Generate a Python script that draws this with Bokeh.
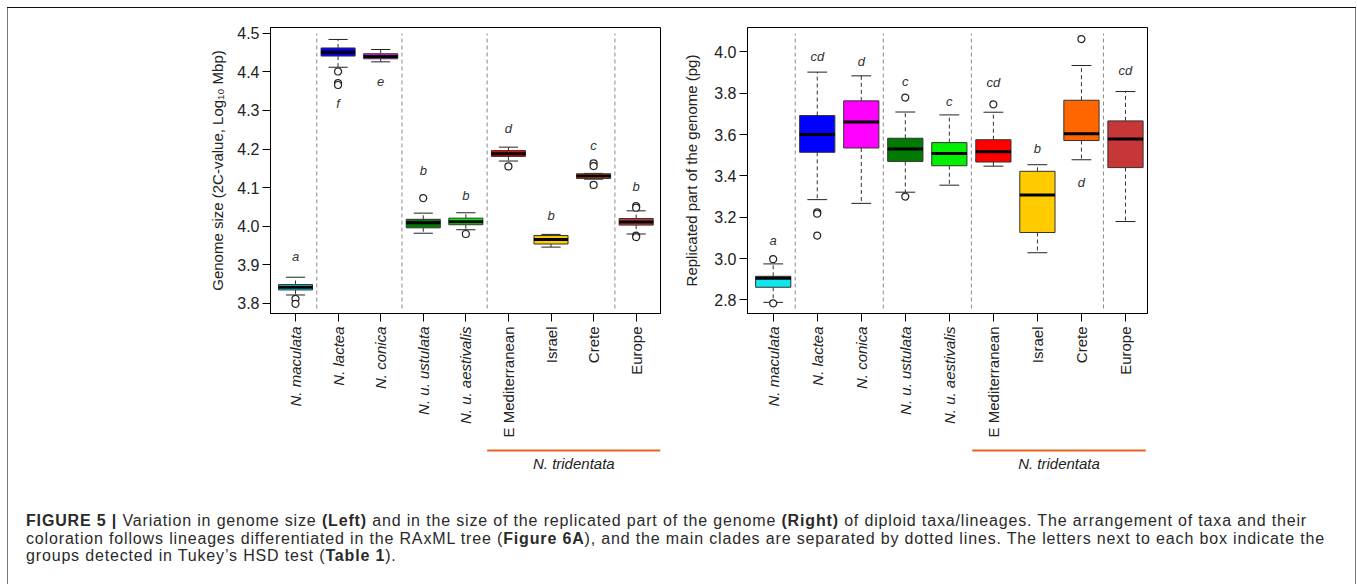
from math import pi
from bokeh.plotting import figure
from bokeh.models import Range1d, FixedTicker, Div, PrintfTickFormatter
from bokeh.layouts import row, column
from bokeh.core.properties import value
from bokeh.embed import file_html
from bokeh.resources import INLINE

taxa = ["N. maculata", "N. lactea", "N. conica", "N. u. ustulata", "N. u. aestivalis",
        "E Mediterranean", "Israel", "Crete", "Europe"]
n_italic = 5  # first five names are species (italic)
colors = ["#10E6EC", "#0000FF", "#FF00FF", "#007A00", "#00F000",
          "#FF0000", "#FFCC00", "#FF6600", "#C83737"]
clade_separators = [1.5, 3.5, 5.5, 8.5]
group_name = "N. tridentata"

# Left: genome size (2C-value, log10 Mbp)
gs_q1 = [3.835, 4.441, 4.434, 3.996, 4.004, 4.181, 3.954, 4.124, 4.003]
gs_med = [3.842, 4.451, 4.440, 4.009, 4.012, 4.188, 3.966, 4.130, 4.011]
gs_q3 = [3.849, 4.462, 4.447, 4.018, 4.021, 4.196, 3.976, 4.136, 4.020]
gs_lo = [3.822, 4.412, 4.426, 3.982, 3.991, 4.169, 3.946, 4.122, 3.980]
gs_hi = [3.868, 4.484, 4.458, 4.034, 4.035, 4.205, 3.979, 4.137, 4.040]
gs_out_x = [1, 1, 2, 2, 2, 4, 5, 6, 8, 8, 8, 9, 9, 9, 9]
gs_out_y = [3.812, 3.799, 4.401, 4.371, 4.366, 4.073, 3.980, 4.155, 4.163, 4.156, 4.107,
            4.052, 4.048, 3.976, 3.972]
gs_letters = ["a", "f", "e", "b", "b", "d", "b", "c", "b"]
gs_letter_y = [3.921, 4.317, 4.375, 4.144, 4.080, 4.254, 4.028, 4.209, 4.104]
gs_yticks = [3.8, 3.9, 4.0, 4.1, 4.2, 4.3, 4.4, 4.5]

# Right: replicated part of the genome (pg)
rp_q1 = [2.861, 3.514, 3.535, 3.470, 3.449, 3.467, 3.126, 3.571, 3.440]
rp_med = [2.905, 3.600, 3.661, 3.530, 3.508, 3.517, 3.307, 3.604, 3.578]
rp_q3 = [2.914, 3.692, 3.763, 3.582, 3.561, 3.575, 3.422, 3.766, 3.666]
rp_lo = [2.788, 3.285, 3.267, 3.321, 3.355, 3.447, 3.028, 3.478, 3.179]
rp_hi = [2.974, 3.902, 3.884, 3.709, 3.695, 3.708, 3.454, 3.934, 3.808]
rp_out_x = [1, 1, 2, 2, 2, 4, 4, 6, 8]
rp_out_y = [2.997, 2.783, 3.224, 3.217, 3.111, 3.779, 3.300, 3.746, 4.062]
rp_letters = ["a", "cd", "d", "c", "c", "cd", "b", "d", "cd"]
rp_letter_y = [3.087, 3.976, 3.952, 3.855, 3.758, 3.850, 3.532, 3.367, 3.908]
rp_yticks = [2.8, 3.0, 3.2, 3.4, 3.6, 3.8, 4.0]

FONT = "Liberation Sans"
MBT = 19
FRAME_H = 286
MBB = 10
HM = MBT + FRAME_H + MBB
HL = 157
HC = 104


def panel(q1, med, q3, lo, hi, ox, oy, letters, ly, xr, yr, yticks, ylabel,
          width, mbl, mbr, standoff):
    p = figure(width=width, height=HM, x_range=Range1d(*xr), y_range=Range1d(*yr),
               output_backend="svg", toolbar_location=None,
               min_border_left=mbl, min_border_right=mbr,
               min_border_top=MBT, min_border_bottom=MBB)
    p.grid.visible = False
    p.outline_line_color = "black"
    p.outline_line_width = 1
    p.background_fill_color = "white"
    p.border_fill_color = "white"
    ppu = FRAME_H / (yr[1] - yr[0])
    xs = list(range(1, len(taxa) + 1))

    p.xaxis.ticker = FixedTicker(ticks=xs)
    p.xaxis.major_label_overrides = {x: "" for x in xs}
    p.xaxis.major_label_text_font_size = "0px"
    p.xaxis.major_label_standoff = 0
    p.xaxis.major_tick_out = 8
    p.xaxis.major_tick_in = 0
    p.xaxis.minor_tick_line_color = None
    p.xaxis.axis_line_color = "black"
    p.xaxis.major_tick_line_color = "black"

    p.yaxis.ticker = FixedTicker(ticks=yticks)
    p.yaxis.formatter = PrintfTickFormatter(format="%.1f")
    p.yaxis.major_tick_out = 8
    p.yaxis.major_tick_in = 0
    p.yaxis.minor_tick_line_color = None
    p.yaxis.major_label_standoff = 3
    p.yaxis.major_label_text_font = FONT
    p.yaxis.major_label_text_font_size = "16px"
    p.yaxis.major_label_text_color = "#222222"
    p.yaxis.axis_label = ylabel
    p.yaxis.axis_label_text_font = FONT
    p.yaxis.axis_label_text_font_size = "15px"
    p.yaxis.axis_label_text_font_style = "normal"
    p.yaxis.axis_label_text_color = "#222222"
    p.yaxis.axis_label_standoff = standoff

    top_v = yr[1] - 6 / ppu
    bot_v = yr[0] + 5 / ppu
    p.segment(x0=clade_separators, x1=clade_separators,
              y0=[bot_v] * len(clade_separators), y1=[top_v] * len(clade_separators),
              line_color="#8a8a8a", line_dash="4 3", line_width=1)

    p.segment(x0=xs, x1=xs, y0=q3, y1=hi, line_color="#333333", line_dash="4 3", line_width=1)
    p.segment(x0=xs, x1=xs, y0=q1, y1=lo, line_color="#333333", line_dash="4 3", line_width=1)
    cw = 0.225
    p.segment(x0=[x - cw for x in xs], x1=[x + cw for x in xs], y0=hi, y1=hi,
              line_color="#222222", line_width=1)
    p.segment(x0=[x - cw for x in xs], x1=[x + cw for x in xs], y0=lo, y1=lo,
              line_color="#222222", line_width=1)
    p.vbar(x=xs, width=0.8, bottom=q1, top=q3, fill_color=colors,
           line_color="#333333", line_width=1)
    p.segment(x0=[x - 0.4 for x in xs], x1=[x + 0.4 for x in xs], y0=med, y1=med,
              line_color="black", line_width=3)
    p.scatter(x=ox, y=oy, marker="circle", size=7, fill_color="white",
              line_color="#222222", line_width=1.2)
    p.text(x=xs, y=ly, text=letters, text_font=value(FONT), text_font_style="italic",
           text_font_size="13px", text_align="center", text_baseline="middle",
           text_color="#333333")
    return p


def label_strip(p, width, mbl, mbr, line_start, line_end):
    # strip under a panel, sharing its x scale; y counts pixels upward from the strip bottom
    s = figure(width=width, height=HL, x_range=p.x_range, y_range=Range1d(0, HL),
               output_backend="svg", toolbar_location=None,
               x_axis_location=None, y_axis_location=None,
               min_border_left=mbl, min_border_right=mbr,
               min_border_top=0, min_border_bottom=0)
    s.grid.visible = False
    s.outline_line_color = None
    s.background_fill_color = "white"
    s.border_fill_color = "white"
    xs = list(range(1, len(taxa) + 1))
    ytop = HL - 3
    s.text(x=xs[:n_italic], y=[ytop] * n_italic, text=taxa[:n_italic], angle=pi / 2,
           text_align="right", text_baseline="middle", text_font=value(FONT),
           text_font_size="15px", text_font_style="italic", text_color="#222222")
    rest = len(taxa) - n_italic
    s.text(x=xs[n_italic:], y=[ytop] * rest, text=taxa[n_italic:], angle=pi / 2,
           text_align="right", text_baseline="middle", text_font=value(FONT),
           text_font_size="15px", text_font_style="normal", text_color="#222222")
    yb = HL - 127
    s.segment(x0=[line_start], x1=[line_end], y0=[yb], y1=[yb],
              line_color="#E5631E", line_width=2)
    s.text(x=[(line_start + line_end) / 2], y=[HL - 140], text=[group_name],
           text_align="center", text_baseline="middle", text_font=value(FONT),
           text_font_size="15px", text_font_style="italic", text_color="#222222")
    return s


p1 = panel(gs_q1, gs_med, gs_q3, gs_lo, gs_hi, gs_out_x, gs_out_y, gs_letters, gs_letter_y,
           (0.413, 9.571), (3.774, 4.515), gs_yticks,
           "Genome size (2C-value, Log\u2081\u2080 Mbp)", 672, 262, 20, 8)
p2 = panel(rp_q1, rp_med, rp_q3, rp_lo, rp_hi, rp_out_x, rp_out_y, rp_letters, rp_letter_y,
           (0.416, 9.50), (2.734, 4.118), rp_yticks,
           "Replicated part of the genome (pg)", 675, 67, 208, 11)
s1 = label_strip(p1, 672, 262, 20, 5.5, 9.571)
s2 = label_strip(p2, 675, 67, 208, 5.52, 9.46)

caption_html = (
    '<div style="font-family: \'Liberation Sans\', Arial, sans-serif; font-size: 16px; '
    'letter-spacing: 0.84px; line-height: 17.6px; color: #2a2a2a; padding-left: 18px; '
    'padding-top: 32px; white-space: nowrap;">'
    '<b>FIGURE 5 |</b> Variation in genome size <b>(Left)</b> and in the size of the '
    'replicated part of the genome <b>(Right)</b> of diploid taxa/lineages. The arrangement '
    'of taxa and their<br>coloration follows lineages differentiated in the RAxML tree '
    '(<b>Figure 6A</b>), and the main clades are separated by dotted lines. The letters next '
    'to each box indicate the<br>groups detected in Tukey\u2019s HSD test (<b>Table 1</b>).'
    '</div>'
)
cap = Div(text=caption_html, width=1347, height=HC, margin=0)
content = column(row(p1, p2), row(s1, s2), cap)
inner_h = HM + HL + HC


def rule(w, h, color=None):
    st = {"background-color": color} if color else {}
    return Div(text="", width=w, height=h, styles=st, margin=0)


layout = column(
    rule(1356, 7),
    row(rule(7, 1), rule(1349, 1, "#111111")),
    row(rule(7, inner_h), rule(1, inner_h, "#7a7a7a"), content, rule(1, inner_h, "#7a7a7a")),
)

open("out.html", "w").write(file_html(layout, INLINE))
